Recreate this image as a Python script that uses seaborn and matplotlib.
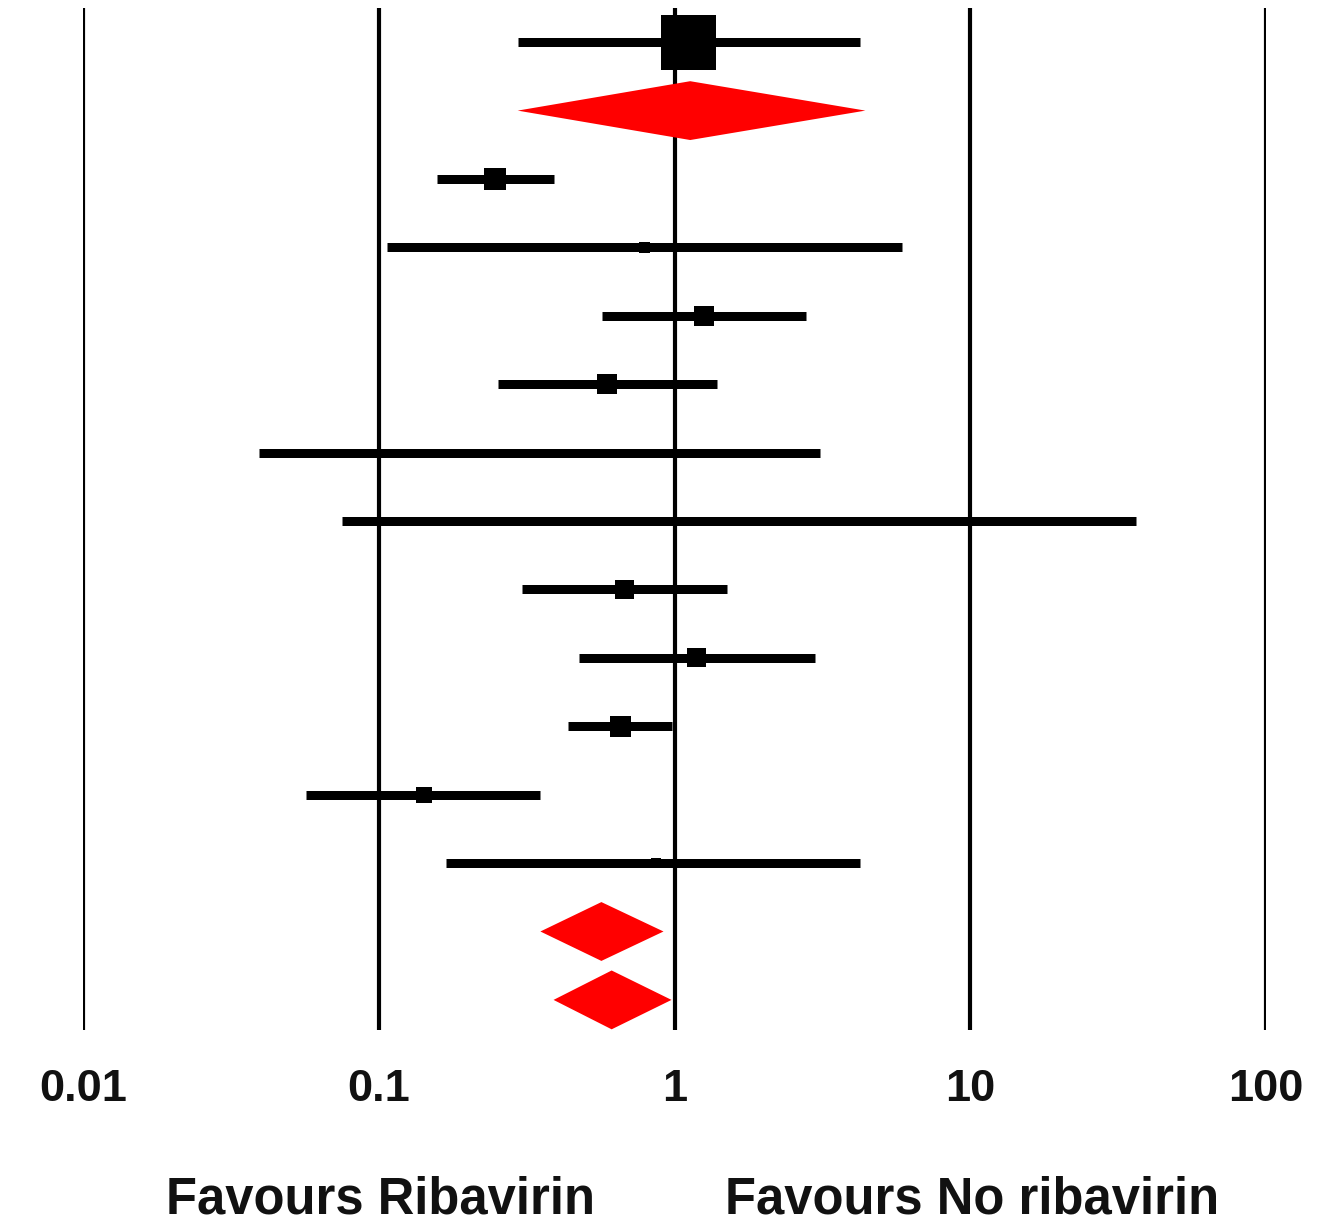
import numpy as np
import pandas as pd
import matplotlib
matplotlib.use("Agg")
import matplotlib.pyplot as plt
import seaborn as sns

# ---- data ----
row_kind = ["study", "pooled", "study", "study", "study", "study", "study",
            "study", "study", "study", "study", "study", "study", "pooled", "pooled"]
estimate = [1.115, 1.13, 0.248, 0.79, 1.26, 0.59, 0.347,
            np.nan, 0.678, 1.19, 0.657, 0.142, 0.863, 0.566, 0.613]
ci_low = [0.295, 0.295, 0.157, 0.107, 0.567, 0.254, 0.0393,
          0.075, 0.304, 0.474, 0.438, 0.0567, 0.169, 0.352, 0.390]
ci_high = [4.25, 4.42, 0.39, 5.89, 2.79, 1.387, 3.11,
           36.4, 1.50, 2.99, 0.977, 0.352, 4.25, 0.918, 0.977]
weight = [30.2, 0.0, 4.8, 1.2, 4.0, 4.0, 0.6,
          0.0, 3.6, 3.6, 4.4, 2.6, 1.0, 0.0, 0.0]
tick_values = [0.01, 0.1, 1, 10, 100]
tick_labels = ["0.01", "0.1", "1", "10", "100"]
left_label = "Favours Ribavirin"
right_label = "Favours No ribavirin"

df = pd.DataFrame({"kind": row_kind, "est": estimate, "lo": ci_low,
                   "hi": ci_high, "w": weight})
df["row"] = np.arange(len(df))

# ---- figure ----
sns.set_theme(style="white")
plt.rcParams["font.family"] = ["Liberation Sans", "DejaVu Sans"]
W, H, DPI = 1338, 1227, 100
fig = plt.figure(figsize=(W / DPI, H / DPI), dpi=DPI)
fig.patch.set_facecolor("white")

left_px, right_px, top_px, bot_px = 83, 1266, 8, 1030
ax = fig.add_axes([left_px / W, 1 - bot_px / H,
                   (right_px - left_px) / W, (bot_px - top_px) / H])
ax.set_xscale("log")
ax.set_facecolor("white")
for s in ax.spines.values():
    s.set_visible(False)

# reference grid lines
for v in tick_values:
    ax.axvline(v, color="black", lw=3.0, zorder=1, solid_capstyle="butt")

px2pt = 72 / DPI
studies = df[df["kind"] == "study"]
ax.hlines(studies["row"], studies["lo"], studies["hi"], color="black",
          lw=9 * px2pt, zorder=2, capstyle="butt")

# squares sized by weight
pts = studies.dropna(subset=["est"]).copy()
max_side_px = 55
pts["area"] = (np.sqrt(pts["w"] / max(weight)) * max_side_px * px2pt) ** 2
sns.scatterplot(x=pts["est"].values, y=pts["row"].values, marker="s",
                s=pts["area"].values, color="black", linewidth=0,
                zorder=3, ax=ax, legend=False)

# pooled diamonds
half_h = 0.43
for _, r in df[df["kind"] == "pooled"].iterrows():
    ax.fill([r["lo"], r["est"], r["hi"], r["est"]],
            [r["row"], r["row"] - half_h, r["row"], r["row"] + half_h],
            color="red", lw=0, zorder=4)

ax.set_xlim(0.01, 100)
ax.set_ylim(14.44, -0.5)
ax.set_xticks(tick_values)
ax.set_xticklabels(tick_labels, fontsize=32.5, fontweight="bold",
                   color="#111111")
ax.xaxis.set_minor_locator(matplotlib.ticker.NullLocator())
ax.tick_params(axis="x", length=0, pad=28, bottom=True)
ax.set_yticks([])
ax.set_xlabel("")
ax.set_ylabel("")

fig.text(381 / W, 2 / H, left_label, ha="center", va="bottom",
         fontsize=36.5, fontweight="bold", color="#111111")
fig.text(972 / W, 2 / H, right_label, ha="center", va="bottom",
         fontsize=36.5, fontweight="bold", color="#111111")

fig.savefig("out.png", dpi=DPI, facecolor="white")
